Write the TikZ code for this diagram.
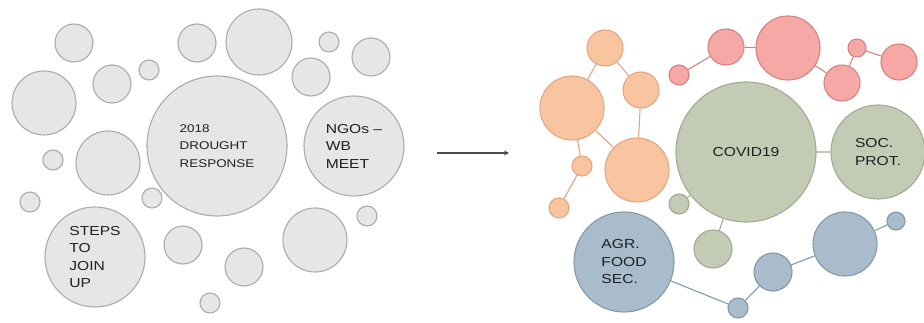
\documentclass[tikz,border=0pt]{standalone}
\usepackage{fontspec}
\setmainfont{Liberation Sans}[FakeStretch=1.2]
\usetikzlibrary{arrows.meta}

\definecolor{grayfill}{HTML}{E6E6E6}
\definecolor{graydraw}{HTML}{ABABAB}
\definecolor{orgfill}{HTML}{F9C4A0}
\definecolor{orgdraw}{HTML}{E2A683}
\definecolor{redfill}{HTML}{F5A8A6}
\definecolor{reddraw}{HTML}{D6817F}
\definecolor{grnfill}{HTML}{C3CBB5}
\definecolor{grndraw}{HTML}{A1AA92}
\definecolor{blufill}{HTML}{A8BCCB}
\definecolor{bludraw}{HTML}{8299AB}

\tikzset{
  bubble/.style={circle,inner sep=0pt,line width=1.1pt,minimum size=#1},
  grayb/.style={bubble=#1,draw=graydraw,fill=grayfill},
  orgb/.style={bubble=#1,draw=orgdraw,fill=orgfill},
  redb/.style={bubble=#1,draw=reddraw,fill=redfill},
  grnb/.style={bubble=#1,draw=grndraw,fill=grnfill},
  blub/.style={bubble=#1,draw=bludraw,fill=blufill},
  lbl/.style={align=left,text=black!88,font=\fontsize{13}{17.5}\selectfont},
  small lbl/.style={lbl,font=\fontsize{11.2}{17.5}\selectfont},
  link/.style={line width=1.1pt}
}

\begin{document}
\begin{tikzpicture}[x=1pt,y=-1pt]
  \useasboundingbox (0,0) rectangle (924,323);
  % left: unconnected bubbles
  \foreach \x/\y/\r [count=\i] in {74/43/19,44/103/32,112/84/19,149/70/10,197/43/19,
      259/42/33,329/42/10,371/57/19,311/77/19,108/163/32,53/160/10,30/202/10,
      152/198/10,183/245/19,244/267/19,210/303/10,315/240/32,367/216/10}
    \node[grayb=\r*2] (g\i) at (\x,\y) {};
  \node[grayb=140,small lbl] (drought) at (217,146) {2018\\DROUGHT\\RESPONSE};
  \node[grayb=100,lbl] (ngos) at (354,146) {NGOs --\\WB\\MEET};
  \node[grayb=100,lbl] (steps) at (95,257) {STEPS\\TO\\JOIN\\UP};

  % arrow
  \coordinate (from) at (437,153);
  \coordinate (to) at (509,153);
  \draw[line width=1.4pt,black!70,-{Stealth[length=5pt,width=5pt]}] (from) -- (to);

  % right: orange cluster
  \node[orgb=36] (o1) at (605,48) {};
  \node[orgb=64] (o2) at (572,108) {};
  \node[orgb=36] (o3) at (641,90) {};
  \node[orgb=64] (o4) at (637,170) {};
  \node[orgb=20] (o5) at (582,166) {};
  \node[orgb=20] (o6) at (559,208) {};
  \draw[link,orgdraw] (o1) -- (o2) (o1) -- (o3) (o3) -- (o4) (o2) -- (o4)
    (o2) -- (o5) (o5) -- (o6);

  % red cluster
  \node[redb=20] (r1) at (679,75) {};
  \node[redb=36] (r2) at (726,47) {};
  \node[redb=64] (r3) at (788,48) {};
  \node[redb=36] (r4) at (842,83) {};
  \node[redb=18] (r5) at (857,48) {};
  \node[redb=36] (r6) at (899,62) {};
  \draw[link,reddraw] (r1) -- (r2) (r2) -- (r3) (r3) -- (r4) (r4) -- (r5) (r5) -- (r6);

  % green cluster
  \node[grnb=140,lbl] (covid) at (746,152) {COVID19};
  \node[grnb=94,lbl] (soc) at (878,152) {SOC.\\PROT.};
  \node[grnb=20] (g1n) at (679,204) {};
  \node[grnb=38] (g2n) at (713,249) {};
  \draw[link,grndraw] (covid) -- (soc) (covid) -- (g1n) (covid) -- (g2n);

  % blue cluster
  \node[blub=100,lbl] (agr) at (624,262) {AGR.\\FOOD\\SEC.};
  \node[blub=20] (b1) at (738,308) {};
  \node[blub=38] (b2) at (773,272) {};
  \node[blub=64] (b3) at (845,244) {};
  \node[blub=18] (b4) at (896,221) {};
  \draw[link,bludraw] (agr) -- (b1) (b1) -- (b2) (b2) -- (b3) (b3) -- (b4);
\end{tikzpicture}
\end{document}
